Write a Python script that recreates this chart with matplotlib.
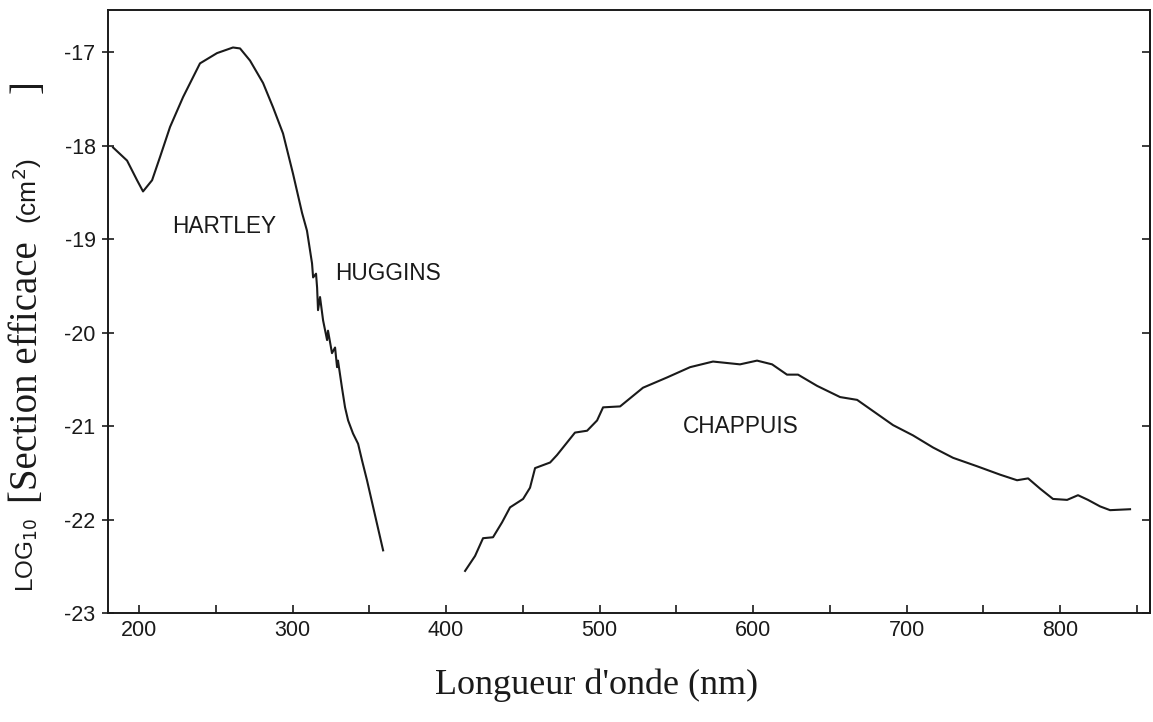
import matplotlib
matplotlib.use('Agg')
import matplotlib.pyplot as plt

plt.rcParams['axes.unicode_minus'] = False

# Hartley + Huggins bands: wavelength (nm) and log10 cross section (cm2)
uv_nm = [183.1, 192.2, 198.7, 202.6, 208.5, 213.7, 220.2, 228.7, 239.7, 250.8,
         261.2, 265.8, 272.3, 280.8, 287.3, 293.8, 300.3, 306.2, 309.4, 312.7,
         313.4, 315.3, 316.0, 316.6, 317.9, 319.9, 322.5, 323.1, 325.7, 327.7,
         329.0, 329.6, 332.2, 334.2, 336.2, 339.4, 342.7, 345.3, 348.5, 359.0]
uv_log = [-18.02, -18.16, -18.37, -18.49, -18.37, -18.12, -17.80, -17.48, -17.12, -17.01,
          -16.95, -16.96, -17.09, -17.33, -17.59, -17.87, -18.30, -18.72, -18.91, -19.26,
          -19.41, -19.37, -19.52, -19.76, -19.62, -19.87, -20.08, -19.98, -20.22, -20.16,
          -20.37, -20.30, -20.59, -20.80, -20.94, -21.08, -21.19, -21.37, -21.58, -22.33]

# Chappuis band
vis_nm = [412.4, 418.9, 424.1, 430.6, 436.5, 441.7, 450.2, 454.7, 458.0, 467.8,
          472.3, 484.0, 491.9, 498.4, 502.3, 513.4, 528.3, 544.0, 559.0, 573.9,
          591.5, 602.6, 612.4, 622.1, 629.3, 641.7, 656.7, 667.8, 678.2, 691.2,
          704.2, 717.3, 730.3, 745.9, 760.9, 772.0, 779.2, 787.0, 795.4, 804.6,
          811.7, 818.2, 826.1, 832.6, 845.6]
vis_log = [-22.55, -22.39, -22.20, -22.19, -22.03, -21.87, -21.78, -21.66, -21.45, -21.39,
           -21.31, -21.07, -21.05, -20.94, -20.80, -20.79, -20.59, -20.48, -20.37, -20.31,
           -20.34, -20.30, -20.34, -20.45, -20.45, -20.57, -20.69, -20.72, -20.84, -20.99,
           -21.10, -21.23, -21.34, -21.43, -21.52, -21.58, -21.56, -21.67, -21.78, -21.79,
           -21.74, -21.79, -21.86, -21.90, -21.89]

band_names = ['HARTLEY', 'HUGGINS', 'CHAPPUIS']
band_x = [221.5, 327.7, 554.4]
band_y = [-18.87, -19.37, -21.01]

xticks = [200, 300, 400, 500, 600, 700, 800]
xminor = [250, 350, 450, 550, 650, 750, 850]
yticks = [-23, -22, -21, -20, -19, -18, -17]

sans = 'Liberation Sans'
serif = 'Liberation Serif'
ink = '#1a1a1a'

fig = plt.figure(figsize=(11.53, 7.22), dpi=100)
ax = fig.add_axes([0.0937, 0.151, 0.9037, 0.835])

ax.plot(uv_nm, uv_log, color=ink, lw=1.5)
ax.plot(vis_nm, vis_log, color=ink, lw=1.5)

for name, x, y in zip(band_names, band_x, band_y):
    ax.text(x, y, name, fontsize=16.3, family=sans, color=ink, ha='left', va='center')

ax.set_xlim(179.8, 858.6)
ax.set_ylim(-23, -16.55)
ax.set_xticks(xticks)
ax.set_xticks(xminor, minor=True)
ax.set_yticks(yticks)
ax.set_yticklabels([str(v) for v in yticks])

ax.tick_params(axis='x', which='both', direction='in', length=6, width=1.2,
               top=False, pad=5, labelsize=15.5, colors=ink)
ax.tick_params(axis='y', direction='inout', length=8, width=1.2, pad=5,
               labelsize=15.5, colors=ink)
for lab in ax.get_xticklabels() + ax.get_yticklabels():
    lab.set_family(sans)

for sp in ax.spines.values():
    sp.set_color(ink)
    sp.set_linewidth(1.4)

right = ax.secondary_yaxis('right')
right.set_yticks(yticks)
right.tick_params(direction='in', length=6, width=1.2, labelright=False, colors=ink)
right.spines['right'].set_linewidth(1.4)

fig.text(0.517, 0.051, "Longueur d'onde (nm)", fontsize=26, family=serif,
         color=ink, ha='center', va='center')

# y label: mixed sans / serif pieces, stacked bottom to top
lab_x = 0.024
fig.text(lab_x, 1 - 592 / 722, 'LOG$_{10}$', fontsize=17.5, family=sans, color=ink,
         rotation=90, rotation_mode='anchor', ha='left', va='center')
fig.text(lab_x, 1 - 503 / 722, '[Section efficace', fontsize=28, family=serif, color=ink,
         rotation=90, rotation_mode='anchor', ha='left', va='center')
fig.text(lab_x, 1 - 224 / 722, '(cm$^2$)', fontsize=19, family=sans, color=ink,
         rotation=90, rotation_mode='anchor', ha='left', va='center')
fig.text(lab_x, 1 - 80 / 722, ']', fontsize=28, family=serif, color=ink,
         rotation=90, rotation_mode='anchor', ha='right', va='center')

fig.savefig('out.png', dpi=100)
